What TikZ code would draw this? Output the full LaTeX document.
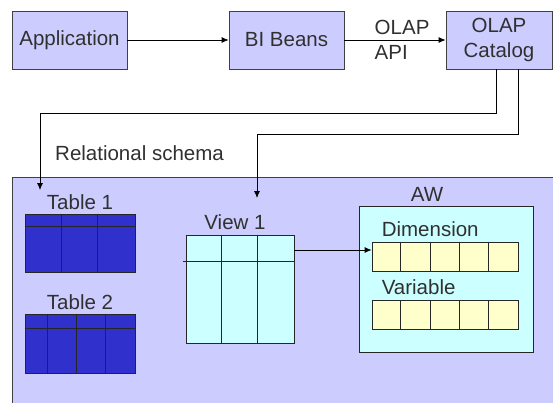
\documentclass[tikz,border=0pt]{standalone}
\usepackage{fontspec}
\setmainfont{Liberation Sans}
\usetikzlibrary{arrows.meta,positioning}

\definecolor{lav}{HTML}{CCCCFF}
\definecolor{tblue}{HTML}{3030CC}
\definecolor{vcyan}{HTML}{CCFFFF}
\definecolor{cellyel}{HTML}{FFFFCC}
\definecolor{edge}{HTML}{404040}
\definecolor{txt}{HTML}{303030}

\tikzset{
  block/.style   = {shape=rectangle, draw=edge, fill=lav, line width=0.8pt,
                    align=center, inner sep=0pt, minimum height=58pt,
                    text=txt, font=\fontsize{20.5}{24.6}\selectfont},
  tag/.style     = {inner sep=0pt, text=txt, font=\fontsize{20.5}{24.6}\selectfont},
  tbl/.style     = {shape=rectangle, draw=black!85, fill=tblue, line width=0.8pt, inner sep=0pt},
  viewbox/.style = {shape=rectangle, draw=black!85, fill=vcyan, line width=0.8pt, inner sep=0pt},
  strip/.style   = {shape=rectangle, draw=black!85, fill=cellyel, line width=0.8pt, inner sep=0pt,
                    minimum width=146pt, minimum height=29pt},
  arr/.style     = {draw=black, line width=0.8pt, -{Latex[length=7pt,width=6pt]}},
  grid/.style    = {draw=black!85, line width=0.8pt}
}

\begin{document}
\begin{tikzpicture}[x=1pt, y=-1pt]
\useasboundingbox (0,0) rectangle (553,402);
\clip (0,0) rectangle (553,402);

% relational schema area
\fill[lav] (12,177) rectangle (560,410);
\draw[edge, line width=1pt] (560,177) -- (12,177) -- (12,410);

% top row
\node[block, minimum width=115pt] (app) at (69.5,40) {Application};
\node[block, minimum width=115pt] (bib) at (286.5,40) {BI Beans};
\node[block, minimum width=106pt] (cat) at (499,40) {OLAP\\Catalog};

\draw[arr] (app) -- (bib);
\draw[arr] (bib) -- node[tag, align=left, pos=0.57] (api) {OLAP\\API} (cat);

\node[tag, anchor=west] (rel) at (55,153) {Relational schema};

% links from the catalog
\coordinate (bend1) at (40,113);
\coordinate (bend2) at (257,134);
\coordinate (t1in) at (40,190);
\coordinate (v1in) at (257,198);
\draw[arr] ([xshift=-3pt]cat.south) |- (bend1) -- (t1in);
\draw[arr] ([xshift=19pt]cat.south) |- (bend2) -- (v1in);

% tables
\node[tbl, minimum width=110pt, minimum height=58pt] (tab1) at (80,243) {};
\draw[grid] ([yshift=-13pt]tab1.north west) -- ([yshift=-13pt]tab1.north east);
\foreach \dx in {37,73}
  \draw[grid] ([xshift=\dx pt]tab1.north west) -- ([xshift=\dx pt]tab1.south west);
\node[tag, above=4pt of tab1] (tab1lbl) {Table 1};

\node[tbl, minimum width=110pt, minimum height=59pt] (tab2) at (80,343.5) {};
\draw[grid] ([yshift=-15pt]tab2.north west) -- ([yshift=-15pt]tab2.north east);
\foreach \dx in {23,52,81}
  \draw[grid] ([xshift=\dx pt]tab2.north west) -- ([xshift=\dx pt]tab2.south west);
\node[tag, above=4pt of tab2] (tab2lbl) {Table 2};

% view
\node[viewbox, minimum width=108pt, minimum height=108pt] (view1) at (240,289) {};
\draw[grid] ([xshift=-3pt,yshift=-27pt]view1.north west) -- ([yshift=-27pt]view1.north east);
\foreach \dx in {36,72}
  \draw[grid] ([xshift=\dx pt]view1.north west) -- ([xshift=\dx pt]view1.south west);
\node[tag, above=5pt of view1, xshift=-5pt] (view1lbl) {View 1};

% analytic workspace
\node[viewbox, minimum width=174pt, minimum height=146pt] (aw) at (446,279) {};
\node[tag, anchor=base] (awlbl) at ([xshift=-19pt,yshift=4pt]aw.north) {AW};

\node[strip] (dimrow) at (445,256.5) {};
\node[strip] (varrow) at (445,315) {};
\foreach \row in {dimrow,varrow}
  \foreach \dx in {29.2,58.4,87.6,116.8}
    \draw[grid] ([xshift=\dx pt]\row.north west) -- ([xshift=\dx pt]\row.south west);
\node[tag, anchor=base west] (dimlbl) at ([xshift=10pt,yshift=5pt]dimrow.north west) {Dimension};
\node[tag, anchor=base west] (varlbl) at ([xshift=10pt,yshift=6pt]varrow.north west) {Variable};

\draw[arr] ([yshift=39pt]view1.east) -- ([yshift=6.5pt]dimrow.west);
\end{tikzpicture}
\end{document}
